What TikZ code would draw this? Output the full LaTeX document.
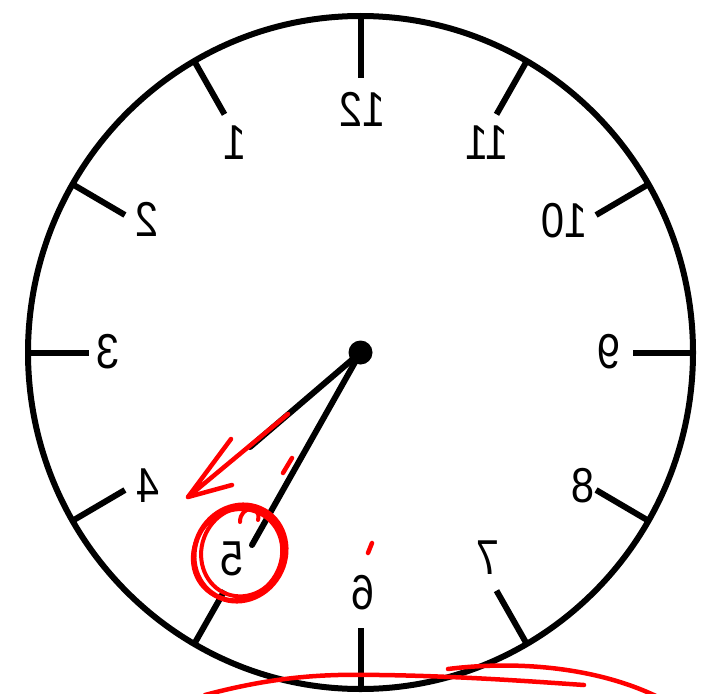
\documentclass[tikz,border=0pt]{standalone}
\usepackage{fontspec}
\setmainfont{Liberation Sans}
\usetikzlibrary{calc}
\begin{document}
\begin{tikzpicture}[x=1pt,y=-1pt,
  rim/.style={line width=6pt,black},
  tickline/.style={line width=6pt,black},
  handline/.style={line width=6pt,black},
  num/.style={inner sep=0pt,font=\fontsize{49}{49}\selectfont},
  redpen/.style={red,line width=4.5pt,line cap=round,line join=round}]
\useasboundingbox (0,0) rectangle (706,693);
\fill[white] (0,0) rectangle (706,693);
\coordinate (c) at (360.5,352.5);
% rim
\draw[rim] (c) ellipse [x radius=332.5, y radius=336.5];
% ticks
\foreach \a in {0,30,...,330}{
  \draw[tickline] ($(c)+({332*cos(\a)},{-336*sin(\a)})$) -- ($(c)+({272*cos(\a)},{-275*sin(\a)})$);
}
% mirrored numbers
\foreach \n/\x/\y in {12/362/109, 1/235/143, 2/147/219, 3/108/352, 4/148/486, 5/232/559,
                     6/363/593, 7/488/558, 8/583/486, 9/609/352, 10/564/221, 11/487/143}{
  \node[num] (n\n) at (\x,\y) {\scalebox{-0.85}[1]{\n}};
}
% hands
\coordinate (h1) at (250,447);
\coordinate (h2) at (252,545);
\draw[handline,line cap=round] (c) -- (h1);
\draw[handline,line cap=round] (c) -- (h2);
\fill[black] (c) circle (12);
% red annotations
\coordinate (rs) at (288,414);
\coordinate (rt) at (188,497);
\coordinate (rb1) at (231,439);
\coordinate (rb2) at (232,485);
\draw[redpen] (rs) -- (rt) -- (rb1);
\draw[redpen] (rt) -- (rb2);
\draw[redpen] (292,458) -- (283,473);
\draw[redpen] (372,543) -- (368,553);
\draw[redpen,line width=5pt,rotate around={60:(240,553)}] (240,553) ellipse [x radius=49, y radius=45];
\draw[redpen,line width=4pt,rotate around={70:(240,553)}] (242,555) ellipse [x radius=45, y radius=41];
\draw[redpen,line width=3.5pt,rotate around={50:(240,553)}] (237,552) ellipse [x radius=47, y radius=43];
\draw[redpen,line width=4pt] (240,522) .. controls (240,505) and (262,505) .. (258,520);
\draw[redpen] (205,695) .. controls (280,675) and (330,674) .. (380,675) .. controls (460,676) and (540,682) .. (584,685);
\draw[redpen] (448,669) .. controls (520,660) and (600,668) .. (660,698);
\end{tikzpicture}
\end{document}
